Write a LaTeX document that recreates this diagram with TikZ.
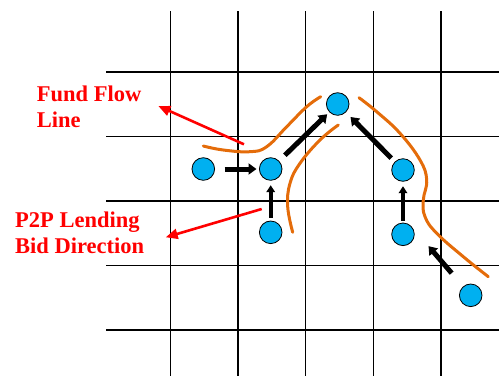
\documentclass[tikz,border=0pt]{standalone}
\usepackage{fontspec}
\setmainfont{Liberation Serif}
\usetikzlibrary{arrows.meta}
\definecolor{agent}{HTML}{00B0F0}
\definecolor{flowline}{HTML}{E46C0A}
\definecolor{note}{HTML}{FF0000}
\begin{document}
\begin{tikzpicture}[x=1pt,y=-1pt,
  gridline/.style={line width=1.4pt,black},
  agentdot/.style={circle,draw=black,line width=0.8pt,fill=agent,minimum size=22.6pt,inner sep=0pt},
  bid/.style={line width=5pt,-{Triangle[length=8pt,width=11pt]}},
  bidthin/.style={line width=3.6pt,-{Triangle[length=7pt,width=8.5pt]}},
  fund/.style={flowline,line width=3pt,line cap=round},
  pointer/.style={note,line width=2.6pt,-{Triangle[length=12pt,width=10pt]}},
  label/.style={note,font=\bfseries\fontsize{22.5}{26}\selectfont,align=left,inner sep=0pt,anchor=base west}]
  \useasboundingbox (0,0) rectangle (499,376);

  % grid
  \foreach \gx in {170.3,238,305.7,373.3,441}
    \draw[gridline] (\gx,11) -- (\gx,376);
  \foreach \gy in {72,136.7,201,265.7,330}
    \draw[gridline] (106,\gy) -- (499,\gy);

  % fund flow lines
  \draw[fund] plot[smooth,tension=0.7] coordinates
    {(203.3,146) (223.3,150) (250,151.7) (266.7,146.7) (286.7,126.7) (306.7,106.7) (320.7,96.7)};
  \draw[fund] plot[smooth,tension=0.7] coordinates
    {(338.3,125) (320,140) (300,163.3) (290,183.3) (287.7,206.7) (292.7,232.3)};
  \draw[fund] plot[smooth,tension=0.7] coordinates
    {(359,97.7) (376.7,111.7) (400,133.3) (420,160) (426.7,180) (423.3,200) (425,216.7) (436.7,233.3) (463.3,256.7) (488.3,276.7)};

  % lenders
  \node[agentdot] (A) at (203.3,169) {};
  \node[agentdot] (B) at (270.7,169) {};
  \node[agentdot] (C) at (270.7,232.3) {};
  \node[agentdot] (D) at (337.7,104) {};
  \node[agentdot] (E) at (403,170) {};
  \node[agentdot] (F) at (403,234.3) {};
  \node[agentdot] (G) at (470.7,295.3) {};

  % bid directions
  \draw[bid,shorten <=9.5pt,shorten >=2.5pt] (A) -- (B);
  \draw[bidthin,shorten <=3pt,shorten >=4.5pt] (C) -- (B);
  \draw[bid,shorten <=8pt,shorten >=3pt] (B) -- (D);
  \draw[bid,shorten <=5pt,shorten >=6.5pt] (E) -- (D);
  \draw[bidthin,shorten <=2pt,shorten >=4.5pt] (F) -- (E);
  \draw[bid,shorten <=17.5pt,shorten >=26.5pt] (G) -- (F.north east);

  % annotations (anchored at the baseline of the last line)
  \node[label] (fundlabel) at (36.7,127.3) {Fund Flow\\Line};
  \node[label] (bidlabel) at (15,253.3) {P2P Lending\\Bid Direction};
  \coordinate (fundfrom) at (244,144.3);
  \coordinate (fundto) at (158.3,106);
  \coordinate (bidfrom) at (261.7,209);
  \coordinate (bidto) at (165.7,237.3);
  \draw[pointer] (fundfrom) -- (fundto);
  \draw[pointer] (bidfrom) -- (bidto);
\end{tikzpicture}
\end{document}
